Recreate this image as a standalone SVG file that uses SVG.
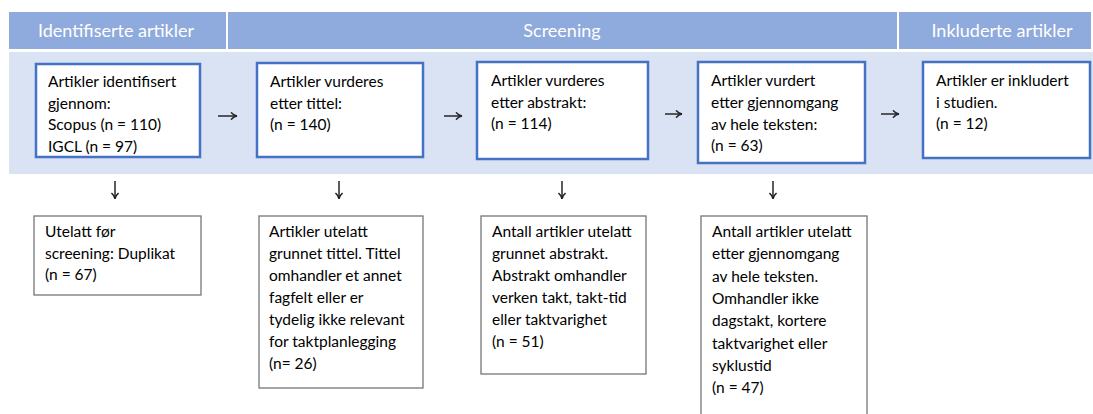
<svg xmlns="http://www.w3.org/2000/svg" width="1093" height="414" viewBox="0 0 1093 414">
<style>
.hdr{fill:#8FAADC}
.hdrt{font-family:Lato,"Liberation Sans",sans-serif;font-size:18px;fill:#ffffff}
.band{fill:#DAE3F3}
.bx{fill:#ffffff;stroke:#4472C4;stroke-width:2.5}
.ex{fill:#ffffff;stroke:#767676;stroke-width:1.3}
.t{font-family:Lato,"Liberation Sans",sans-serif;font-size:15.5px;fill:#000000}
.arr{stroke:#262626;stroke-width:1.5;fill:none;marker-end:url(#ah)}
</style>
<defs>
<marker id="ah" viewBox="0 0 10 10" refX="9" refY="5" markerWidth="8" markerHeight="8" markerUnits="userSpaceOnUse" orient="auto">
<path d="M2,1 Q5,4.5 9,5 Q5,5.5 2,9" fill="none" stroke="#262626" stroke-width="1.8" stroke-linecap="round"/>
</marker>
</defs>
<rect width="1093" height="414" fill="#ffffff"/>
<g id="header">
<rect class="hdr" x="9" y="12" width="217" height="37"/>
<rect class="hdr" x="228" y="12" width="669" height="37"/>
<rect class="hdr" x="899" y="12" width="192" height="37"/>
<text class="hdrt" x="38" y="37">Identifiserte artikler</text>
<text class="hdrt" x="562" y="37" text-anchor="middle">Screening</text>
<text class="hdrt" x="1002" y="37" text-anchor="middle">Inkluderte artikler</text>
</g>
<rect class="band" x="9" y="52" width="1084" height="122"/>
<g id="identified">
<rect class="bx" x="36" y="64" width="164" height="93"/>
<text class="t" x="48" y="87"><tspan x="48">Artikler identifisert</tspan><tspan x="48" dy="21.5">gjennom:</tspan><tspan x="48" dy="21.5">Scopus (n = 110)</tspan><tspan x="48" dy="21.5">IGCL (n = 97)</tspan></text>
</g>
<g id="title">
<rect class="bx" x="257" y="63" width="166" height="94"/>
<text class="t" x="270" y="87"><tspan x="270">Artikler vurderes</tspan><tspan x="270" dy="21.5">etter tittel:</tspan><tspan x="270" dy="21.5">(n = 140)</tspan></text>
</g>
<g id="abstract">
<rect class="bx" x="477" y="62" width="171" height="97"/>
<text class="t" x="491" y="86"><tspan x="491">Artikler vurderes</tspan><tspan x="491" dy="21.5">etter abstrakt:</tspan><tspan x="491" dy="21.5">(n = 114)</tspan></text>
</g>
<g id="fulltext">
<rect class="bx" x="698" y="62" width="167" height="101"/>
<text class="t" x="711" y="86"><tspan x="711">Artikler vurdert</tspan><tspan x="711" dy="21.8">etter gjennomgang</tspan><tspan x="711" dy="21.8">av hele teksten:</tspan><tspan x="711" dy="21.8">(n = 63)</tspan></text>
</g>
<g id="included">
<rect class="bx" x="923" y="62" width="167" height="96"/>
<text class="t" x="936" y="86"><tspan x="936">Artikler er inkludert</tspan><tspan x="936" dy="21.5">i studien.</tspan><tspan x="936" dy="21.5">(n = 12)</tspan></text>
</g>
<g id="excl-duplicates">
<rect class="ex" x="34" y="216" width="167" height="79"/>
<text class="t" x="45" y="237"><tspan x="45">Utelatt før</tspan><tspan x="45" dy="21.5">screening: Duplikat</tspan><tspan x="45" dy="21.5">(n = 67)</tspan></text>
</g>
<g id="excl-title">
<rect class="ex" x="259" y="216" width="164" height="172"/>
<text class="t" x="269" y="237"><tspan x="269">Artikler utelatt</tspan><tspan x="269" dy="22">grunnet tittel. Tittel</tspan><tspan x="269" dy="22">omhandler et annet</tspan><tspan x="269" dy="22">fagfelt eller er</tspan><tspan x="269" dy="22">tydelig ikke relevant</tspan><tspan x="269" dy="22">for taktplanlegging</tspan><tspan x="269" dy="22">(n= 26)</tspan></text>
</g>
<g id="excl-abstract">
<rect class="ex" x="481" y="216" width="165" height="158"/>
<text class="t" x="492" y="237"><tspan x="492">Antall artikler utelatt</tspan><tspan x="492" dy="22">grunnet abstrakt.</tspan><tspan x="492" dy="22">Abstrakt omhandler</tspan><tspan x="492" dy="22">verken takt, takt-tid</tspan><tspan x="492" dy="22">eller taktvarighet</tspan><tspan x="492" dy="22">(n = 51)</tspan></text>
</g>
<g id="excl-fulltext">
<rect class="ex" x="701" y="216" width="166" height="210"/>
<text class="t" x="712" y="237"><tspan x="712">Antall artikler utelatt</tspan><tspan x="712" dy="22.3">etter gjennomgang</tspan><tspan x="712" dy="22.3">av hele teksten.</tspan><tspan x="712" dy="22.3">Omhandler ikke</tspan><tspan x="712" dy="22.3">dagstakt, kortere</tspan><tspan x="712" dy="22.3">taktvarighet eller</tspan><tspan x="712" dy="22.3">syklustid</tspan><tspan x="712" dy="22.3">(n = 47)</tspan></text>
</g>
<g id="connectors">
<line class="arr" x1="218" y1="116" x2="237" y2="116"/>
<line class="arr" x1="444" y1="116" x2="462" y2="116"/>
<line class="arr" x1="665" y1="114" x2="682" y2="114"/>
<line class="arr" x1="881" y1="114" x2="899" y2="114"/>
<line class="arr" x1="115" y1="181" x2="115" y2="199"/>
<line class="arr" x1="339" y1="181" x2="339" y2="199"/>
<line class="arr" x1="562" y1="181" x2="562" y2="199"/>
<line class="arr" x1="773" y1="181" x2="773" y2="199"/>
</g>
</svg>
